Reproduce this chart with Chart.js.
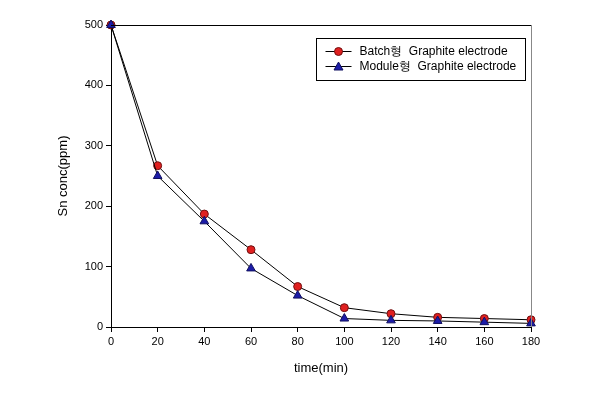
<!DOCTYPE html>
<html>
<head>
<meta charset="utf-8">
<script src="https://cdn.jsdelivr.net/npm/chart.js@4.4.0/dist/chart.umd.min.js"></script>
<style>
  html, body { margin: 0; padding: 0; background: #fff; }
  #wrap { width: 605px; height: 404px; }
</style>
</head>
<body>
<div id="wrap"><canvas id="chart" width="605" height="404"></canvas></div>
<script>
// Data
const times = [0, 20, 40, 60, 80, 100, 120, 140, 160, 180];
const batchValues = [500, 267, 187, 128, 67, 32, 22, 16, 14, 12];
const moduleValues = [500, 250, 175, 97, 52, 14, 11, 10, 8, 6];
const seriesLabels = ['Batch형  Graphite electrode', 'Module형  Graphite electrode'];
const xTicks = [0, 20, 40, 60, 80, 100, 120, 140, 160, 180];
const yTicks = [0, 100, 200, 300, 400, 500];
const xTitle = 'time(min)';
const yTitle = 'Sn conc(ppm)';

const FONT = 'Arial, "Liberation Sans", sans-serif';

const toPoints = vals => times.map((t, i) => ({ x: t, y: vals[i] }));

// top + right frame lines, axis titles and the boxed legend
const framePlugin = {
    id: 'frame',
    afterDraw(chart) {
        const { ctx, chartArea: a } = chart;
        ctx.save();
        ctx.lineWidth = 1;
        ctx.strokeStyle = '#000';
        ctx.beginPath();
        ctx.moveTo(a.left, a.top + 0.5);
        ctx.lineTo(a.right, a.top + 0.5);
        ctx.stroke();
        ctx.strokeStyle = '#888';
        ctx.beginPath();
        ctx.moveTo(a.right + 0.5, a.top);
        ctx.lineTo(a.right + 0.5, a.bottom);
        ctx.stroke();

        // axis titles
        ctx.fillStyle = '#000';
        ctx.font = '13px ' + FONT;
        ctx.textAlign = 'center';
        ctx.textBaseline = 'middle';
        ctx.fillText(xTitle, (a.left + a.right) / 2, 368);
        ctx.save();
        ctx.translate(63, (a.top + a.bottom) / 2);
        ctx.rotate(-Math.PI / 2);
        ctx.fillText(yTitle, 0, 0);
        ctx.restore();

        // legend box
        const bx = 316.5, by = 38.5, bw = 209, bh = 42;
        ctx.strokeStyle = '#000';
        ctx.fillStyle = '#fff';
        ctx.fillRect(bx, by, bw, bh);
        ctx.strokeRect(bx, by, bw, bh);
        ctx.font = '12px ' + FONT;
        ctx.textAlign = 'left';
        ctx.textBaseline = 'middle';
        chart.data.datasets.forEach((ds, i) => {
            const y = by + 13 + i * 15;
            ctx.strokeStyle = '#000';
            ctx.beginPath();
            ctx.moveTo(bx + 9, y);
            ctx.lineTo(bx + 35, y);
            ctx.stroke();
            ctx.fillStyle = ds.pointBackgroundColor;
            ctx.strokeStyle = ds.pointBorderColor;
            ctx.beginPath();
            if (ds.pointStyle === 'triangle') {
                ctx.moveTo(bx + 22, y - 4.5);
                ctx.lineTo(bx + 26.5, y + 3.5);
                ctx.lineTo(bx + 17.5, y + 3.5);
                ctx.closePath();
            } else {
                ctx.arc(bx + 22, y, 4, 0, Math.PI * 2);
            }
            ctx.fill();
            ctx.stroke();
            ctx.fillStyle = '#000';
            ctx.fillText(ds.label, bx + 43, y);
        });
        ctx.restore();
    }
};

new Chart(document.getElementById('chart').getContext('2d'), {
    type: 'scatter',
    data: {
        datasets: [{
            label: seriesLabels[0],
            data: toPoints(batchValues),
            order: 1,
            showLine: true,
            clip: false,
            borderColor: '#000',
            borderWidth: 1,
            tension: 0,
            pointStyle: 'circle',
            pointRadius: 4,
            pointBackgroundColor: '#e02020',
            pointBorderColor: '#701010',
            pointBorderWidth: 1
        }, {
            label: seriesLabels[1],
            data: toPoints(moduleValues),
            order: 0,
            showLine: true,
            clip: false,
            borderColor: '#000',
            borderWidth: 1,
            tension: 0,
            pointStyle: 'triangle',
            pointRadius: 5,
            pointBackgroundColor: '#1c1ca8',
            pointBorderColor: '#101060',
            pointBorderWidth: 1
        }]
    },
    options: {
        responsive: false,
        animation: false,
        layout: { padding: { top: 25, right: 74, left: 0, bottom: 0 } },
        plugins: { legend: { display: false }, tooltip: { enabled: false } },
        scales: {
            x: {
                type: 'linear',
                min: 0, max: 180,
                afterBuildTicks: s => { s.ticks = xTicks.map(v => ({ value: v })); },
                afterFit: s => { s.height = 77; },
                grid: { drawOnChartArea: false, drawTicks: true, tickLength: 5, color: '#000' },
                border: { display: true, color: '#000', width: 1 },
                ticks: { color: '#000', font: { family: FONT, size: 11 }, padding: 3, maxRotation: 0 }
            },
            y: {
                min: 0, max: 500,
                afterBuildTicks: s => { s.ticks = yTicks.map(v => ({ value: v })); },
                afterFit: s => { s.width = 111; },
                grid: { drawOnChartArea: false, drawTicks: true, tickLength: 5, color: '#000' },
                border: { display: true, color: '#000', width: 1 },
                ticks: { color: '#000', font: { family: FONT, size: 11 }, padding: 3 }
            }
        }
    },
    plugins: [framePlugin]
});
</script>
</body>
</html>
